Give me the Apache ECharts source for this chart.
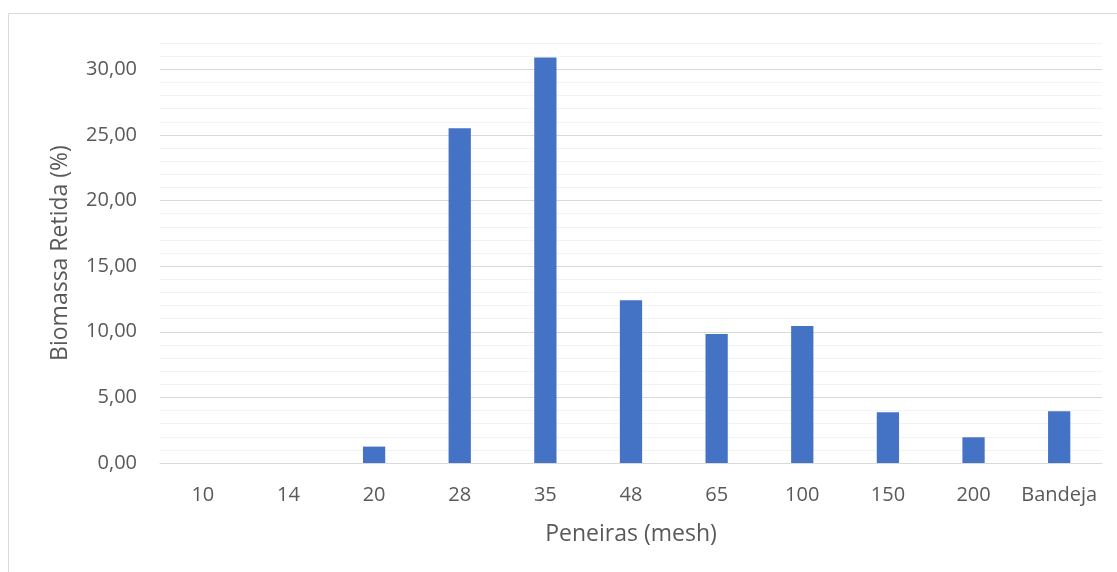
<!DOCTYPE html>
<html>
<head>
<meta charset="utf-8">
<script src="https://cdn.jsdelivr.net/npm/echarts@6/dist/echarts.min.js"></script>
<style>
  html, body { margin: 0; padding: 0; background: #ffffff; }
  #chart { width: 1117px; height: 572px; }
</style>
</head>
<body>
<div id="chart"></div>
<script>
// Sieve openings (mesh) and the share of biomass retained on each one
const peneiras = ['10', '14', '20', '28', '35', '48', '65', '100', '150', '200', 'Bandeja'];
const biomassaRetida = [0, 0, 1.25, 25.5, 30.9, 12.4, 9.82, 10.43, 3.86, 1.96, 3.94];
const yMax = 32;
const yLabelStep = 5;

const FONT = '"Open Sans", "Noto Sans", sans-serif';
const TEXT = '#595959';
const MAJOR = '#d9d9d9';
const MINOR = '#f2f2f2';

// one split line per unit; every fifth one is a labelled major line
const gridColors = [MAJOR, MINOR, MINOR, MINOR, MINOR];

const chart = echarts.init(document.getElementById('chart'), null, { renderer: 'canvas' });
chart.setOption({
  animation: false,
  backgroundColor: '#ffffff',
  graphic: [{
    type: 'rect',
    shape: { x: 8.5, y: 13.5, width: 1200, height: 700 },
    style: { fill: 'none', stroke: '#d9d9d9', lineWidth: 1 },
    silent: true,
    z: -10
  }],
  grid: { left: 160, right: 15, top: 43, bottom: 109 },
  xAxis: {
    type: 'category',
    data: peneiras,
    name: 'Peneiras (mesh)',
    nameLocation: 'middle',
    nameGap: 60,
    nameTextStyle: { fontFamily: FONT, fontSize: 23, color: TEXT },
    axisLine: { show: true, lineStyle: { color: MAJOR, width: 1 } },
    axisTick: { show: false },
    axisLabel: { fontFamily: FONT, fontSize: 20, color: TEXT, margin: 22, interval: 0 },
    splitLine: { show: false }
  },
  yAxis: {
    type: 'value',
    min: 0,
    max: yMax,
    interval: 1,
    name: 'Biomassa Retida (%)',
    nameLocation: 'middle',
    nameGap: 88,
    nameTextStyle: { fontFamily: FONT, fontSize: 23, color: TEXT },
    axisLine: { show: false },
    axisTick: { show: false },
    axisLabel: {
      fontFamily: FONT, fontSize: 20, color: TEXT, margin: 23,
      formatter: function (v) {
        return v % yLabelStep === 0 ? v.toFixed(2).replace('.', ',') : '';
      }
    },
    splitLine: { show: true, lineStyle: { color: gridColors, width: 1 } }
  },
  series: [{
    type: 'bar',
    data: biomassaRetida,
    barWidth: '26%',
    itemStyle: { color: '#4472c4' }
  }]
});
</script>
</body>
</html>
